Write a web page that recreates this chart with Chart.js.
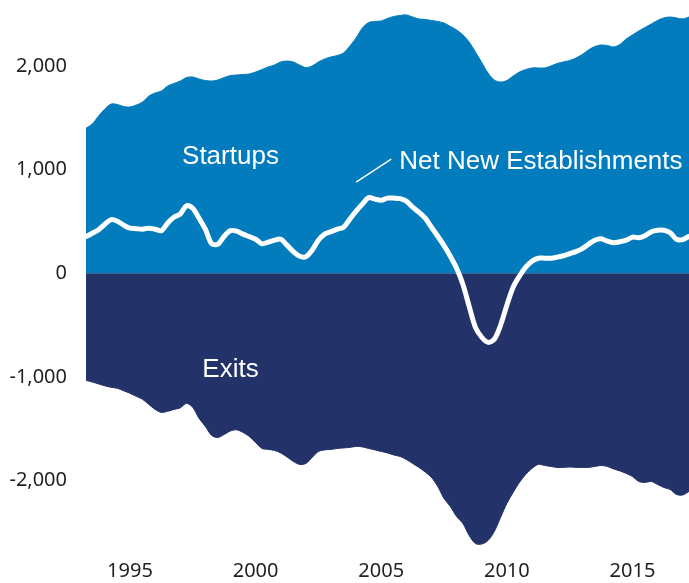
<!DOCTYPE html>
<html>
<head>
<meta charset="utf-8">
<title>Startups and Exits</title>
<script src="https://cdn.jsdelivr.net/npm/chart.js@4.4.1/dist/chart.umd.min.js"></script>
<style>
  html, body { margin: 0; padding: 0; background: #fff; }
  #wrap { width: 689px; height: 583px; position: relative; }
</style>
</head>
<body>
<div id="wrap"><canvas id="chartEstablishments"></canvas></div>
<script>
// quarterly periods, 1993 Q2 .. 2017 Q2
const quarters = [];
for (let yr = 1993; yr <= 2017; yr++) {
    for (let q = 0; q < 4; q++) {
        const t = yr + q / 4;
        if (t >= 1993.25 && t <= 2017.25) quarters.push(t);
    }
}

const xTicks = [1995, 2000, 2005, 2010, 2015];
const yTicks = [-2000, -1000, 0, 1000, 2000];

// thousands of establishments
const startups = [
    1400, 1440, 1517, 1585, 1633, 1628, 1609, 1604, 1623, 1652,
    1710, 1739, 1758, 1807, 1831, 1855, 1889, 1894, 1874, 1860,
    1855, 1865, 1889, 1908, 1913, 1918, 1923, 1942, 1966, 1990,
    2010, 2039, 2048, 2039, 2010, 1985, 2000, 2039, 2068, 2087,
    2101, 2126, 2193, 2271, 2367, 2420, 2430, 2435, 2459, 2478,
    2488, 2493, 2473, 2454, 2449, 2440, 2430, 2415, 2382, 2348,
    2300, 2232, 2135, 2034, 1932, 1865, 1845, 1860, 1903, 1942,
    1966, 1981, 1981, 1981, 2000, 2024, 2039, 2053, 2077, 2111,
    2155, 2188, 2203, 2198, 2184, 2208, 2261, 2300, 2338, 2372,
    2406, 2440, 2464, 2473, 2464, 2454, 2473
];

const exits = [
    -1034, -1050, -1068, -1087, -1101, -1111, -1135, -1159, -1188, -1217,
    -1266, -1314, -1343, -1333, -1314, -1300, -1256, -1295, -1401, -1478,
    -1565, -1585, -1556, -1522, -1512, -1536, -1575, -1633, -1691, -1700,
    -1710, -1734, -1773, -1816, -1845, -1836, -1778, -1720, -1705, -1700,
    -1691, -1686, -1681, -1671, -1676, -1691, -1705, -1720, -1734, -1754,
    -1768, -1797, -1836, -1874, -1918, -1971, -2058, -2174, -2251, -2348,
    -2415, -2531, -2609, -2614, -2580, -2493, -2357, -2222, -2116, -2019,
    -1942, -1884, -1845, -1855, -1865, -1874, -1874, -1870, -1874, -1874,
    -1874, -1865, -1855, -1865, -1889, -1908, -1932, -1961, -2010, -2019,
    -2010, -2039, -2068, -2087, -2135, -2140, -2106
];

const netNew = [
    353, 386, 420, 473, 517, 502, 464, 435, 430, 425,
    435, 425, 411, 483, 541, 570, 652, 628, 531, 425,
    285, 280, 357, 411, 406, 377, 353, 328, 285, 300,
    319, 328, 271, 208, 164, 159, 222, 319, 377, 401,
    425, 444, 522, 599, 667, 729, 715, 705, 725, 725,
    720, 696, 638, 589, 531, 444, 357, 266, 164, 48,
    -106, -319, -522, -618, -667, -638, -502, -309, -135, -29,
    58, 116, 145, 145, 145, 155, 169, 188, 208, 237,
    280, 319, 333, 309, 295, 304, 319, 348, 343, 362,
    401, 415, 415, 391, 328, 324, 357
];

// labels placed in data coordinates [year, value]
const labelStartups = { text: 'Startups', at: [1999.0, 1050], align: 'center' };
const labelExits = { text: 'Exits', at: [1999.0, -1005], align: 'center' };
const labelNet = { text: 'Net New Establishments', at: [2005.72, 1005], align: 'left' };
const leader = [[2004.0, 879], [2005.4, 1101]];

const toPoints = (vals) => vals.map((v, i) => ({ x: quarters[i], y: v }));

const annotations = {
    id: 'annotations',
    afterDatasetsDraw(chart) {
        const ctx = chart.ctx;
        const xs = chart.scales.x, ys = chart.scales.y;
        ctx.save();
        ctx.fillStyle = '#ffffff';
        ctx.font = '26px "Liberation Sans", Arial, sans-serif';
        ctx.textBaseline = 'alphabetic';
        [labelStartups, labelExits, labelNet].forEach(l => {
            ctx.textAlign = l.align;
            ctx.fillText(l.text, xs.getPixelForValue(l.at[0]), ys.getPixelForValue(l.at[1]));
        });
        ctx.strokeStyle = '#ffffff';
        ctx.lineWidth = 1.5;
        ctx.beginPath();
        ctx.moveTo(xs.getPixelForValue(leader[0][0]), ys.getPixelForValue(leader[0][1]));
        ctx.lineTo(xs.getPixelForValue(leader[1][0]), ys.getPixelForValue(leader[1][1]));
        ctx.stroke();
        ctx.restore();
    }
};

new Chart(document.getElementById('chartEstablishments'), {
    type: 'line',
    data: {
        datasets: [{
            label: 'Net New Establishments',
            data: toPoints(netNew),
            borderColor: '#ffffff',
            borderWidth: 5,
            borderJoinStyle: 'round',
            borderCapStyle: 'round',
            fill: false,
            pointRadius: 0,
            tension: 0.3
        }, {
            label: 'Startups',
            data: toPoints(startups),
            borderColor: '#037cbd',
            backgroundColor: '#037cbd',
            borderWidth: 1,
            fill: 'origin',
            pointRadius: 0,
            tension: 0.3
        }, {
            label: 'Exits',
            data: toPoints(exits),
            borderColor: '#233268',
            backgroundColor: '#233268',
            borderWidth: 1,
            fill: 'origin',
            pointRadius: 0,
            tension: 0.3
        }]
    },
    options: {
        responsive: true,
        maintainAspectRatio: false,
        animation: false,
        layout: { padding: { top: 9, right: 0, left: 0, bottom: 0 } },
        plugins: {
            legend: { display: false },
            tooltip: { enabled: false },
            title: { display: false }
        },
        scales: {
            x: {
                type: 'linear',
                min: 1993.25,
                max: 2017.25,
                grid: { display: false, drawTicks: false },
                border: { display: false },
                afterBuildTicks: (axis) => { axis.ticks = xTicks.map(v => ({ value: v })); },
                afterFit: (axis) => {
                    axis.height = 30;
                    axis.paddingLeft = 0;
                    axis.paddingRight = 0;
                },
                ticks: {
                    padding: 6,
                    color: '#231f20',
                    font: { family: '"Noto Sans", sans-serif', size: 20 },
                    callback: (v) => String(v)
                }
            },
            y: {
                min: -2700,
                max: 2550,
                grid: { display: false, drawTicks: false },
                border: { display: false },
                afterBuildTicks: (axis) => { axis.ticks = yTicks.map(v => ({ value: v })); },
                afterFit: (axis) => {
                    axis.width = 86;
                    axis.paddingTop = 0;
                    axis.paddingBottom = 0;
                },
                ticks: {
                    padding: 19,
                    color: '#231f20',
                    font: { family: '"Noto Sans", sans-serif', size: 20 },
                    callback: (v) => v.toLocaleString('en-US')
                }
            }
        }
    },
    plugins: [annotations]
});
</script>
</body>
</html>
